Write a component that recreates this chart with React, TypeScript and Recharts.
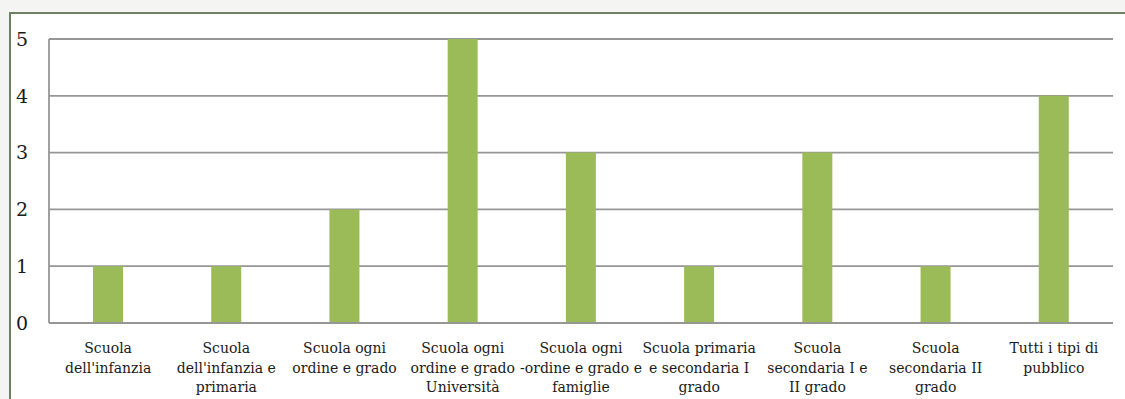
import { BarChart, Bar, XAxis, YAxis, CartesianGrid } from 'recharts';

const categories = [
  "Scuola\ndell'infanzia",
  "Scuola\ndell'infanzia e\nprimaria",
  'Scuola ogni\nordine e grado',
  'Scuola ogni\nordine e grado\nUniversità',
  'Scuola ogni\n-ordine e grado e\nfamiglie',
  'Scuola primaria\ne secondaria I\ngrado',
  'Scuola\nsecondaria I e\nII grado',
  'Scuola\nsecondaria II\ngrado',
  'Tutti i tipi di\npubblico',
];
const values = [1, 1, 2, 5, 3, 1, 3, 1, 4];
const yTicks = [0, 1, 2, 3, 4, 5];

const data = categories.map((name, i) => ({ name, value: values[i] }));

const FONT = 'DejaVu Serif, Liberation Serif, serif';

function CategoryTick(props: any) {
  const { x, y, payload } = props;
  const lines = String(payload.value).split('\n');
  return (
    <g transform={`translate(${x},${y})`}>
      <text textAnchor="middle" fill="#1a1a1a" fontSize={14} fontFamily={FONT}>
        {lines.map((l, i) => (
          <tspan key={i} x={0} dy={i === 0 ? 22 : 19.5}>{l}</tspan>
        ))}
      </text>
    </g>
  );
}

export default function App() {
  return (
    <div style={{ position: 'fixed', left: 0, top: 0, width: 1125, height: 399, background: '#f4f4f2', overflow: 'hidden', fontFamily: FONT }}>
      <div style={{ position: 'absolute', left: 9, top: 12, width: 1200, height: 420, background: '#fff', border: '2px solid #6f7f61', boxSizing: 'border-box' }} />
      <div style={{ position: 'absolute', left: 0, top: 0 }}>
        <BarChart width={1125} height={399} data={data} margin={{ top: 39, right: 12, left: 0, bottom: 0 }} barSize={30}>
          <CartesianGrid vertical={false} stroke="#969696" strokeWidth={1.8} />
          <XAxis
            dataKey="name"
            interval={0}
            axisLine={{ stroke: '#969696', strokeWidth: 1.8 }}
            tickLine={false}
            tick={<CategoryTick />}
            height={76}
          />
          <YAxis
            domain={[0, 5]}
            ticks={yTicks}
            width={49}
            axisLine={{ stroke: '#969696', strokeWidth: 1.8 }}
            tickLine={false}
            tickSize={0}
            tickMargin={21}
            tick={{ fill: '#1a1a1a', fontSize: 19, fontFamily: FONT }}
          />
          <Bar dataKey="value" fill="#9bbb59" isAnimationActive={false} />
        </BarChart>
      </div>
    </div>
  );
}
